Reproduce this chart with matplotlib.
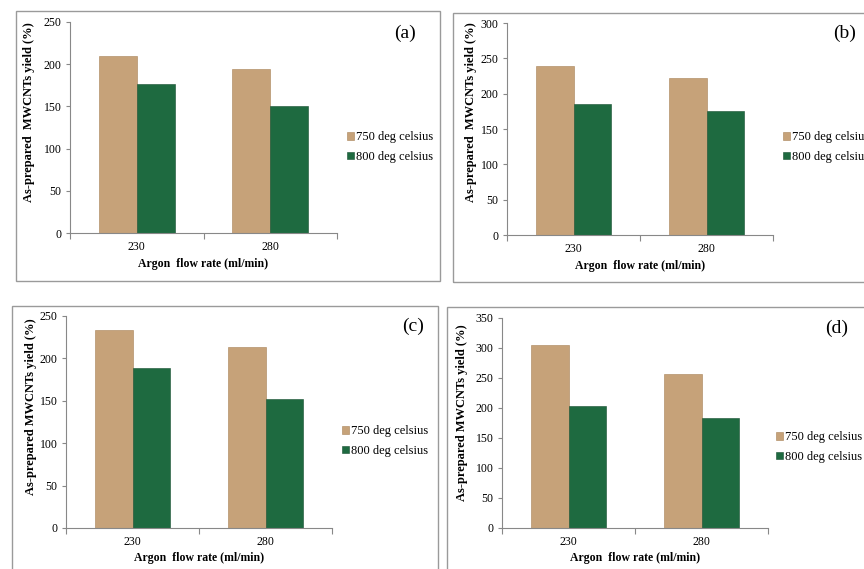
import matplotlib
matplotlib.use("Agg")
import matplotlib.pyplot as plt
from matplotlib.patches import Rectangle, Patch
import numpy as np

plt.rcParams["font.family"] = ["Liberation Serif", "DejaVu Serif"]

# Data
flow_rates = ["230", "280"]
series_names = ["750 deg celsius", "800 deg celsius"]
yield_a_750 = [210, 194]
yield_a_800 = [177, 150]
yield_b_750 = [239, 222]
yield_b_800 = [186, 176]
yield_c_750 = [234, 213]
yield_c_800 = [189, 152]
yield_d_750 = [305, 256]
yield_d_800 = [203, 183]

tan = "#C6A279"
green = "#1E6A40"
W, H = 864, 569


def fx(x):
    return x / W


def fy(y):
    return 1 - y / H


fig = plt.figure(figsize=(W / 100, H / 100), dpi=100)

# panel frames (pixel boxes)
frames = [(16, 11, 440, 281), (453, 13, 880, 282), (12, 306, 438, 590), (447, 307, 880, 590)]
for x0, y0, x1, y1 in frames:
    fig.patches.append(Rectangle((fx(x0), fy(y1)), fx(x1 - x0), (y1 - y0) / H,
                                 transform=fig.transFigure, fill=False,
                                 edgecolor="#9a9a9a", linewidth=1.0))

panels = [
    # label, v750, v800, ymax, axes box (l, t, r, b), ylabel, ylabel x/y offset px,
    # legend x, legend y, label xy
    ("(a)", yield_a_750, yield_a_800, 250, (70, 22, 337, 233),
     "As-prepared  MWCNTs yield (%)", (-35, 15), 342, 147, (405, 33)),
    ("(b)", yield_b_750, yield_b_800, 300, (507, 23, 773, 235),
     "As-prepared  MWCNTs yield (%)", (-30, 17), 778, 147, (845, 33)),
    ("(c)", yield_c_750, yield_c_800, 250, (66, 316, 332, 528),
     "As-prepared MWCNTs yield (%)", (-29, 15), 337, 441, (413, 326)),
    ("(d)", yield_d_750, yield_d_800, 350, (502, 318, 768, 528),
     "As-prepared MWCNTs yield (%)", (-34, 10), 771, 447, (837, 328)),
]

x = np.arange(len(flow_rates))
bw = 0.285

for label, v750, v800, ymax, box, ylab, yoff, leg_x, leg_y, lab_xy in panels:
    l, t, r, b = box
    ax = fig.add_axes([fx(l), fy(b), fx(r - l), (b - t) / H])
    ax.bar(x - bw / 2, v750, bw, color=tan, edgecolor="#a88258", linewidth=0.4)
    ax.bar(x + bw / 2, v800, bw, color=green, edgecolor="#174f31", linewidth=0.4)
    ax.set_xlim(-0.5, 1.5)
    ax.set_ylim(0, ymax)
    ax.set_yticks(np.arange(0, ymax + 1, 50))
    ax.set_xticks([-0.5, 0.5, 1.5])
    ax.set_xticklabels([])
    ax.set_xticks(x, minor=True)
    ax.set_xticklabels(flow_rates, minor=True)
    ax.tick_params(axis="x", which="minor", length=0, pad=6, labelsize=8.5)
    ax.tick_params(axis="x", which="major", length=4, color="#888888", direction="out")
    ax.tick_params(axis="y", length=3, color="#888888", labelsize=8.5, pad=3)
    for s in ["top", "right"]:
        ax.spines[s].set_visible(False)
    for s in ["left", "bottom"]:
        ax.spines[s].set_color("#888888")
        ax.spines[s].set_linewidth(0.8)
    ax.set_ylabel(ylab, fontsize=9, fontweight="bold")
    ax.yaxis.set_label_coords(yoff[0] / (r - l), 0.5 + yoff[1] / (b - t))
    ax.set_xlabel("Argon  flow rate (ml/min)", fontsize=8.5, fontweight="bold", labelpad=3)

    handles = [Patch(facecolor=tan, edgecolor="#a88258", linewidth=0.4),
               Patch(facecolor=green, edgecolor="#174f31", linewidth=0.4)]
    fig.legend(handles, series_names, loc="center left",
               bbox_to_anchor=(fx(leg_x), fy(leg_y)), frameon=False,
               fontsize=9, handlelength=0.55, handleheight=0.55,
               handletextpad=0.2, labelspacing=0.6, borderaxespad=0)

    fig.text(fx(lab_xy[0]), fy(lab_xy[1]), label, fontsize=14,
             ha="center", va="center")

fig.savefig("out.png", dpi=100)
